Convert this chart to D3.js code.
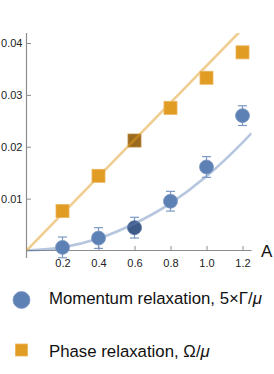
<!DOCTYPE html>
<html>
<head>
<meta charset="utf-8">
<script src="https://cdn.jsdelivr.net/npm/d3@7"></script>
<style>
  body { margin: 0; background: #fff; }
  svg { display: block; font-family: "Liberation Sans", Arial, sans-serif; }
</style>
</head>
<body>
<svg id="chart" width="274" height="374"></svg>
<script>
// data
var amplitudes = [0.2, 0.4, 0.6, 0.8, 1.0, 1.2];
var phaseRelax = [0.0076, 0.0144, 0.0212, 0.0275, 0.0333, 0.0382];
var momentumRelax = [0.0006, 0.0024, 0.0044, 0.0095, 0.0161, 0.0260];
var momentumErr = [0.002, 0.002, 0.002, 0.0019, 0.002, 0.0019];
var highlighted = [0.6];

// fitted curves, points
var phaseFitX = [0, 1.25];
var phaseFitY = [0, 0.0445];
var momentumFitX = [0, 0.2, 0.4, 0.6, 0.8, 1.0, 1.2, 1.25];
var momentumFitY = [0, 0.0006, 0.0023, 0.0052, 0.0091, 0.0143, 0.0208, 0.0226];

var xTicks = [0.2, 0.4, 0.6, 0.8, 1.0, 1.2];
var yTicks = [0.01, 0.02, 0.03, 0.04];

var orange = "#e19c24", blue = "#5e81b5";

var svg = d3.select("#chart");

var x = d3.scaleLinear().domain([0, 1.25]).range([26.5, 251.5]);
var y = d3.scaleLinear().domain([0, 0.04]).range([250.5, 43]);

// clip for fit lines
svg.append("clipPath").attr("id", "plotclip")
  .append("rect").attr("x", x(0)).attr("y", 33)
  .attr("width", x(1.25) - x(0)).attr("height", y(0) - 33 + 10);

// axes
var axisColor = "#8c8c8c";
var xMinor = d3.range(1, 32).map(function(i) { return i * 0.04; })
  .filter(function(v) { return v <= 1.25; });
var yMinor = d3.range(1, 21).map(function(i) { return i * 0.002; });

var gx = svg.append("g").attr("transform", "translate(0," + y(0) + ")");
gx.call(d3.axisBottom(x).tickValues(xMinor).tickSize(-2.5).tickFormat(""));
gx.call(d3.axisBottom(x).tickValues(xTicks).tickSizeInner(-4.5).tickSizeOuter(0)
  .tickPadding(9).tickFormat(d3.format(".1f")));

var gy = svg.append("g").attr("transform", "translate(" + x(0) + ",0)");
gy.call(d3.axisLeft(y).tickValues(yMinor).tickSize(-2.5).tickFormat(""));
gy.call(d3.axisLeft(y).tickValues(yTicks).tickSizeInner(-4.5).tickSizeOuter(0)
  .tickPadding(4).tickFormat(d3.format(".2f")));

svg.selectAll(".domain").remove();
svg.selectAll(".tick line").attr("stroke", axisColor);
svg.selectAll(".tick text").attr("fill", "#222").style("font-size", "11px")
  .style("font-family", "'Liberation Sans', Arial, sans-serif");

svg.append("line").attr("x1", x(0)).attr("x2", x(1.25))
  .attr("y1", y(0)).attr("y2", y(0)).attr("stroke", axisColor).attr("stroke-width", 1.2);
svg.append("line").attr("x1", x(0)).attr("x2", x(0))
  .attr("y1", 33).attr("y2", 258).attr("stroke", axisColor).attr("stroke-width", 1.2);

svg.append("text").attr("x", 261).attr("y", 256.5)
  .style("font-size", "17px").attr("fill", "#111").text("A");

var plot = svg.append("g");

function isHi(a) { return highlighted.indexOf(a) >= 0; }

// highlighted markers sit under the fit lines
function drawSquares(sel) {
  sel.append("rect")
    .attr("x", function(d) { return x(d.a) - 6.5; })
    .attr("y", function(d) { return y(d.v) - 6.5; })
    .attr("width", 13).attr("height", 13)
    .attr("fill", function(d) { return isHi(d.a) ? "#9c6a1c" : orange; })
    .attr("stroke", function(d) { return isHi(d.a) ? "#b88a3c" : "#eab45a"; })
    .attr("stroke-width", 0.8);
}
function drawCircles(sel) {
  sel.append("line")
    .attr("x1", function(d) { return x(d.a); }).attr("x2", function(d) { return x(d.a); })
    .attr("y1", function(d) { return y(d.v - d.e); })
    .attr("y2", function(d) { return y(d.v + d.e); })
    .attr("stroke", "#7c98c4").attr("stroke-width", 1.2);
  [-1, 1].forEach(function(s) {
    sel.append("line")
      .attr("x1", function(d) { return x(d.a) - 4.5; })
      .attr("x2", function(d) { return x(d.a) + 4.5; })
      .attr("y1", function(d) { return y(d.v + s * d.e); })
      .attr("y2", function(d) { return y(d.v + s * d.e); })
      .attr("stroke", "#7c98c4").attr("stroke-width", 1.2);
  });
  sel.append("circle")
    .attr("cx", function(d) { return x(d.a); })
    .attr("cy", function(d) { return y(d.v); })
    .attr("r", 7)
    .attr("fill", function(d) { return isHi(d.a) ? "#3e5a88" : blue; })
    .attr("stroke", function(d) { return isHi(d.a) ? "#5670a0" : "#7d98c4"; })
    .attr("stroke-width", 0.8);
}

var sq = amplitudes.map(function(a, i) { return {a: a, v: phaseRelax[i]}; });
var ci = amplitudes.map(function(a, i) {
  return {a: a, v: momentumRelax[i], e: momentumErr[i]};
});

drawSquares(plot.append("g").selectAll("g")
  .data(sq.filter(function(d) { return isHi(d.a); })).enter().append("g"));
drawCircles(plot.append("g").selectAll("g")
  .data(ci.filter(function(d) { return isHi(d.a); })).enter().append("g"));

var line = d3.line()
  .x(function(d) { return x(d[0]); })
  .y(function(d) { return y(d[1]); })
  .curve(d3.curveMonotoneX);

plot.append("path")
  .datum(d3.zip(momentumFitX, momentumFitY))
  .attr("d", line).attr("fill", "none")
  .attr("stroke", blue).attr("stroke-opacity", 0.45).attr("stroke-width", 2.6)
  .attr("clip-path", "url(#plotclip)");
plot.append("path")
  .datum(d3.zip(phaseFitX, phaseFitY))
  .attr("d", line).attr("fill", "none")
  .attr("stroke", orange).attr("stroke-opacity", 0.5).attr("stroke-width", 2.6)
  .attr("clip-path", "url(#plotclip)");

drawSquares(plot.append("g").selectAll("g")
  .data(sq.filter(function(d) { return !isHi(d.a); })).enter().append("g"));
drawCircles(plot.append("g").selectAll("g")
  .data(ci.filter(function(d) { return !isHi(d.a); })).enter().append("g"));

// legend
var leg = svg.append("g").style("font-size", "16.8px").attr("fill", "#111");
leg.append("circle").attr("cx", 21.5).attr("cy", 300).attr("r", 8.5)
  .attr("fill", blue).attr("stroke", "#7d98c4").attr("stroke-width", 0.8);
var t1 = leg.append("text").attr("x", 49).attr("y", 304);
t1.append("tspan").text("Momentum relaxation, 5×Γ/");
t1.append("tspan").style("font-style", "italic").text("μ");

leg.append("rect").attr("x", 15.5).attr("y", 344).attr("width", 12).attr("height", 12)
  .attr("fill", orange).attr("stroke", "#eab45a").attr("stroke-width", 0.8);
var t2 = leg.append("text").attr("x", 49).attr("y", 357);
t2.append("tspan").text("Phase relaxation, Ω/");
t2.append("tspan").style("font-style", "italic").text("μ");
</script>
</body>
</html>
